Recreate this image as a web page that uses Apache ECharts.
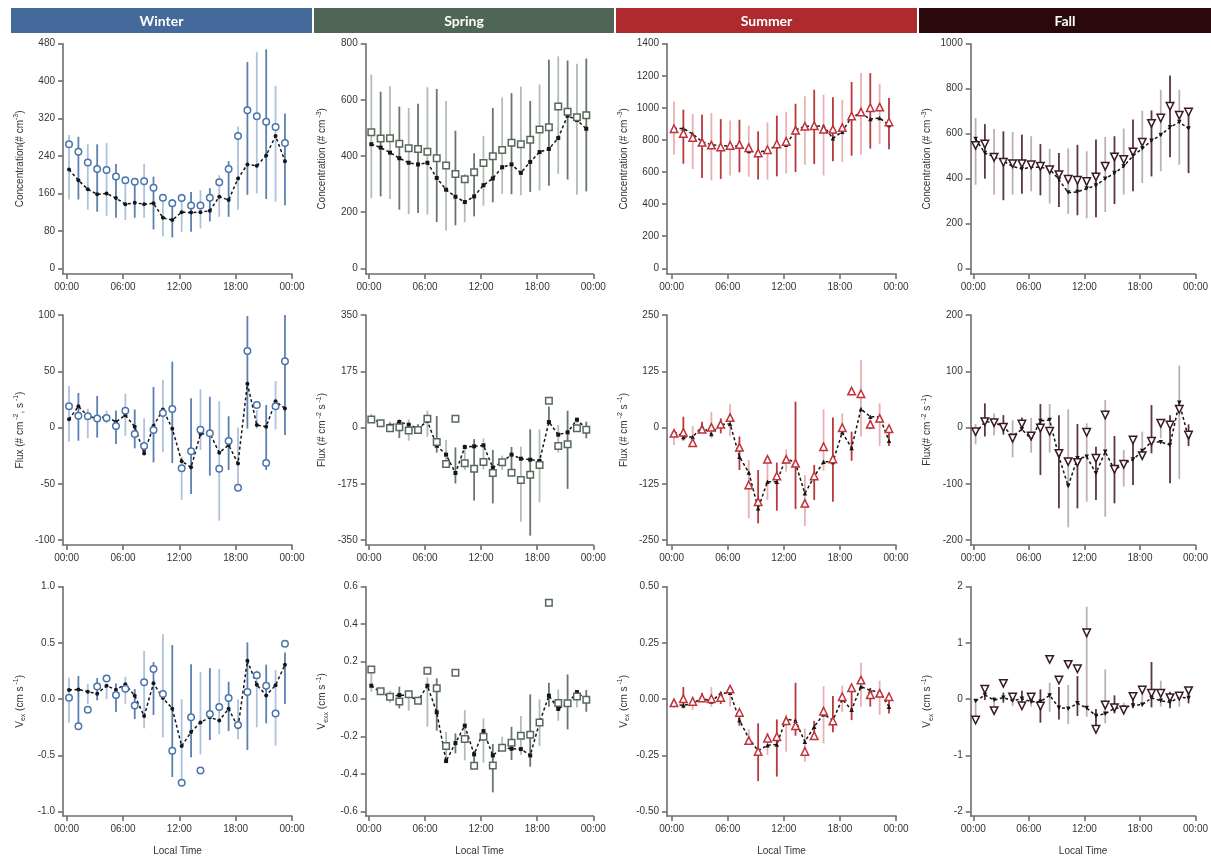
<!DOCTYPE html>
<html>
<head>
<meta charset="utf-8">
<script src="https://cdn.jsdelivr.net/npm/echarts@6/dist/echarts.min.js"></script>
<style>
html,body{margin:0;padding:0;background:#fff;}
#chart{width:1211px;height:857px;}
</style>
</head>
<body>
<div id="chart"></div>
<script>
// Hourly bins (local time, plotted a quarter hour into each hour)
const hourSlots = [0.25,1.25,2.25,3.25,4.25,5.25,6.25,7.25,8.25,9.25,10.25,11.25,12.25,13.25,14.25,15.25,16.25,17.25,18.25,19.25,20.25,21.25,22.25,23.25];
const timeTicks = [0, 6, 12, 18, 24];
const seasonNames = ['Winter', 'Spring', 'Summer', 'Fall'];

// y-axis tick values per row and season
const concTicks = [[0,80,160,240,320,400,480],[0,200,400,600,800],[0,200,400,600,800,1000,1200,1400],[0,200,400,600,800,1000]];
const fluxTicks = [[-100,-50,0,50,100],[-350,-175,0,175,350],[-250,-125,0,125,250],[-200,-100,0,100,200]];
const vexTicks  = [[-1,-0.5,0,0.5,1],[-0.6,-0.4,-0.2,0,0.2,0.4,0.6],[-0.5,-0.25,0,0.25,0.5],[-2,-1,0,1,2]];

// ---- Winter ----
const winterConcOpen = [265,249,226,212,210,196,188,185,186,172,151,139,150,134,134,151,184,212,283,338,325,313,302,268];
const winterConcMean = [211,188,169,158,160,150,137,140,137,139,108,103,120,119,120,123,153,146,192,222,219,241,283,229];
const winterConcLow  = [147,147,125,121,112,108,103,108,108,83,68,66,78,78,85,100,110,110,125,157,160,148,142,135];
const winterConcHigh = [285,281,265,265,268,223,189,189,223,196,153,148,160,163,167,171,199,229,303,441,462,468,390,331];

const winterFluxOpen = [19,10.5,10,8,8.5,1.3,15,-5.8,-16.4,-2.2,13,16.4,-36.3,-21,-2,-5,-36.6,-12,-53.5,68,20,-31.6,19,59];
const winterFluxMean = [7.3,18.8,10.2,8,9.6,4.9,11,0.7,-23,1.3,16,-1,-30,-35.4,-5.8,-5,-22.4,-15.6,-31.9,39,2.2,0.7,23.3,17];
const winterFluxLow  = [-12.6,-11.7,-9.6,-9,3.7,-14.7,-7.3,-18.5,-22,-31,-22,-31.6,-64.4,-59,-20,-42.8,-82.8,-37.8,-55.6,-1,-1,-37.8,-1.6,-6.7];
const winterFluxHigh = [37,30.7,16.7,28,15,15.2,30,16,8.1,36,42.5,58.5,-26,26,34,27.4,23.5,10,0,99,15.5,20,41.3,100];

const winterVexOpen = [0.013,-0.24,-0.093,0.114,0.185,0.037,0.093,-0.055,0.15,0.268,0.046,-0.458,-0.742,-0.161,-0.633,-0.132,-0.07,0.01,-0.23,0.064,0.212,0.12,-0.126,0.493];
const winterVexMean = [0.081,0.087,0.067,0.049,0.12,0.084,0.132,0.031,-0.15,0.141,0.01,-0.084,-0.416,-0.292,-0.206,-0.161,-0.19,-0.084,-0.25,0.342,0.129,0.034,0.123,0.307];
const winterVexLow  = [-0.21,-0.22,-0.044,-0.01,0,-0.114,-0.04,-0.176,-0.259,-0.141,-0.339,-0.692,-0.748,-0.517,-0.49,-0.363,-0.313,-0.283,-0.357,-0.452,-0.25,-0.215,-0.413,-0.043];
const winterVexHigh = [0.19,0.207,0.137,0.188,0.129,0.14,0.2,0.09,0.428,0.33,0.579,0.481,0,0.31,0.244,0.276,0.268,0.155,0,0.505,0.256,0.307,0.26,0.416];

// ---- Spring ----
const springConcOpen = [485,462,463,444,428,425,415,392,366,336,317,342,375,399,421,447,442,458,494,502,576,558,538,545];
const springConcMean = [442,430,412,392,376,370,376,322,280,255,236,256,296,320,360,370,340,379,414,425,464,544,528,497];
const springConcLow  = [250,256,247,209,193,197,191,165,135,153,164,185,223,235,265,264,260,272,277,294,337,316,262,274];
const springConcHigh = [690,629,648,576,571,586,645,639,596,490,336,410,472,571,608,624,647,596,655,743,755,740,729,747];

const springFluxOpen = [25,13,-2.6,0.5,-9,-8,27.5,-45,-113.5,27.5,-111.5,-128,-107,-141.6,-108,-140.5,-163,-146.7,-116.7,83.5,-57.6,-52.4,-2.6,-6.7];
const springFluxMean = [28.5,14,5.7,17,8.8,-3.6,20,-56.5,-84.5,-141.6,-60.7,-58.6,-55.5,-125,-107,-84.5,-97,-100,-104,17,-22.3,-15,24.4,-3.6];
const springFluxLow  = [15,4.7,-9.8,-32.7,-41,-20,-28.5,-78,-120,-174,-132,-227.6,-130,-236,-132,-148,-293,-336.5,-232.6,13,-78,-191,13,-33.7];
const springFluxHigh = [42,21,19,25,25,10,52,36,-39,-62,-52.4,-36,-33.7,-70,-87.6,-60.7,-59.6,-5.7,-5.7,65,7.8,52,28.5,18];

const springVexOpen = [0.159,0.042,0.013,-0.012,0.026,-0.008,0.152,0.058,-0.25,0.141,-0.212,-0.355,-0.2,-0.353,-0.259,-0.232,-0.195,-0.189,-0.124,0.515,-0.02,-0.022,0.015,-0.003];
const springVexMean = [0.072,0.036,0.013,0.022,0.02,-0.008,0.072,-0.07,-0.33,-0.234,-0.141,-0.294,-0.17,-0.3,-0.259,-0.264,-0.266,-0.3,-0.124,0.019,-0.052,-0.022,0.038,-0.003];
const springVexLow  = [0.04,0.022,-0.019,-0.049,-0.061,-0.019,-0.147,-0.168,-0.321,-0.289,-0.326,-0.371,-0.339,-0.497,-0.271,-0.324,-0.298,-0.36,-0.25,-0.04,-0.115,-0.161,-0.044,-0.067];
const springVexHigh = [0.174,0.058,0.045,0.067,0.044,0.013,0.116,0.111,-0.175,-0.182,-0.058,-0.275,-0.102,-0.239,-0.2,-0.147,-0.09,0.026,0,0.088,0.052,0.132,0.038,0.049];

// ---- Summer ----
const summerConcOpen = [870,841,816,785,768,756,766,771,752,719,739,775,791,860,885,889,866,866,877,949,974,1001,1005,912];
const summerConcMean = [872,872,837,789,770,764,762,762,731,721,737,764,770,862,885,887,887,810,851,945,964,931,937,893];
const summerConcLow  = [708,652,619,563,548,557,579,598,571,553,553,573,592,600,646,650,579,667,663,702,708,746,773,742];
const summerConcHigh = [1039,989,962,957,968,930,922,926,889,854,910,952,976,1026,1072,1113,1082,1066,1051,1161,1217,1217,1150,1061];

const summerFluxOpen = [-13,-10.7,-33.7,-4,0.4,7,22,-44,-127.8,-165,-70.7,-107.8,-70.7,-79.6,-168.5,-107.8,-42.6,-70,-0.4,81,75,7,20.4,-2.6];
const summerFluxMean = [-9.3,-21,-21,1.9,-14.4,7,7.8,-64.8,-100,-179.6,-120.4,-120.4,-67,-79.6,-146.3,-109.3,-76,-76.7,-10.7,-45.6,41,24,23.3,-29.3];
const summerFluxLow  = [-38.9,-29,-24,-5.6,-24,-13,-20,-94.4,-201.8,-213,-161,-184.8,-98,-181,-218.9,-161,-96,-164.8,-18.9,-73.7,-20.4,-4,-41,-41];
const summerFluxHigh = [-5.6,24,3,13,35,20.4,51.5,-20,-72,-94.4,-64.8,-78,-48.5,57.4,-105.6,-83,40.4,22,31.5,-9.3,150,16.7,53.7,-5.6];

const summerVexOpen = [-0.016,0.002,-0.01,0.005,0.002,0.008,0.045,-0.059,-0.184,-0.232,-0.173,-0.167,-0.096,-0.118,-0.232,-0.162,-0.053,-0.097,0.011,0.051,0.085,0.02,0.026,0.011];
const summerVexMean = [-0.024,-0.027,-0.019,0.005,-0.01,0.026,0.029,-0.093,-0.174,-0.229,-0.205,-0.201,-0.088,-0.096,-0.189,-0.122,-0.067,-0.093,0,-0.047,0.056,0.039,0.032,-0.033];
const summerVexLow  = [-0.038,-0.041,-0.048,-0.004,-0.033,-0.021,-0.033,-0.118,-0.194,-0.364,-0.248,-0.344,-0.233,-0.162,-0.278,-0.181,-0.196,-0.147,-0.057,-0.093,-0.033,-0.033,-0.07,-0.063];
const summerVexHigh = [-0.004,0.054,0.011,0.029,0.054,0.033,0.051,-0.048,-0.134,-0.107,-0.149,-0.09,-0.067,0.073,-0.13,-0.096,0.058,0.014,0.061,0.051,0.162,0.05,0.082,0.023];

// ---- Fall ----
const fallConcOpen = [547,553,494,472,466,466,461,454,439,417,396,392,386,407,454,496,484,518,561,645,669,721,681,696];
const fallConcMean = [576,513,496,477,454,442,450,450,442,395,337,340,355,369,399,424,454,501,533,568,593,628,651,622];
const fallConcLow  = [372,399,328,303,328,332,343,325,288,273,242,236,223,227,251,286,328,343,380,409,432,494,461,424];
const fallConcHigh = [669,642,620,610,607,595,588,553,531,513,534,550,521,573,585,588,622,662,702,703,795,858,795,700];

const fallFluxOpen = [-7.4,10.4,8.6,0.3,-19.3,6.2,-15,-0.9,-6.8,-46,-60.7,-62,-8.6,-54.8,22.2,-74.4,-65.5,-22.2,-50,-24.6,7.4,4.4,32.3,-13.3];
const fallFluxMean = [-10.4,10.4,9.2,1.5,-15,-3.3,-20.4,11.6,13.3,-52,-104,-54.8,-52,-81.5,-43,-75.6,-63.7,-57,-41.8,-25.2,-26,-31,44,-19];
const fallFluxLow  = [-30,-16,-14,-12.7,-53,-4.4,-44.7,-84.4,-44.7,-143.7,-177.5,-143.7,-131.9,-129,-158.5,-134.8,-105,-102,-56.6,-46,-19.3,-99,-92,-33];
const fallFluxHigh = [6.2,43,25,22,13,17.5,17,41.8,41.8,22,32.3,6.2,7.4,-34,48.9,-15,-40,-16.3,-7.4,40,7.4,22,110,5.6];

const fallVexOpen = [-0.37,0.175,-0.204,0.281,0.038,-0.116,0.038,-0.121,0.708,0.341,0.619,0.542,1.18,-0.536,-0.104,-0.151,-0.193,0.05,0.163,0.104,0.104,0.027,0.056,0.151];
const fallVexMean = [-0.033,0.074,-0.015,0.027,-0.027,0.009,-0.044,-0.044,0.068,-0.151,-0.169,-0.074,-0.157,-0.293,-0.258,-0.163,-0.151,-0.11,-0.098,0.021,-0.027,-0.056,0.033,0.021];
const fallVexLow  = [-0.311,-0.015,-0.133,-0.062,-0.121,-0.086,-0.133,-0.418,-0.222,-0.359,-0.441,-0.299,-0.311,-0.489,-0.43,-0.252,-0.264,-0.163,-0.133,-0.145,-0.133,-0.163,-0.133,-0.074];
const fallVexHigh = [-0.015,0.193,0.044,0.116,0.074,0.151,0.074,0.175,0.293,0.216,0.252,0.412,1.644,-0.175,0.53,0.068,-0.062,0.116,0.151,0.661,0.329,0.133,0.133,0.193];

// ---- styling ----
const headerColors = ['#44699b', '#4f6656', '#ae2a2f', '#2a080b'];
const markerColors = ['#4a74ab', '#56695c', '#c0313a', '#3a1a20'];
const barLight = ['#adc2dc', '#b3bbb4', '#e8b0b2', '#bdb0b1'];
const barDark = ['#5b80b0', '#69776b', '#b8383c', '#5a383c'];
const shapes = ['circle', 'rect', 'triangle', 'triangle'];
const shapeRotate = [0, 0, 0, 180];
const openSize = [6.5, 6.5, 7.5, 7.5];
const meanSize = [4, 4, 4.5, 4.5];

// panel geometry (pixels)
const colLeft = [63, 365.7, 667, 970.7];
const colRight = [292, 593.3, 896, 1198];
const colXMin = [-0.39, -0.35, -0.5, -0.28];
const rowTop = [43.7, 315, 586.7];
const rowBottom = [274, 545, 816];
const rowLowTick = [268.3, 540, 811.7];

const FONT = '"Liberation Sans", Arial, sans-serif';

const names = {
  conc: [
    'Concentration(# cm{sup|-3})',
    'Concentration (# cm{sup| -3})',
    'Concentration (# cm{sup| -3})',
    'Concentration (# cm{sup| -3})'
  ],
  flux: [
    'Flux (# cm{sup| -2}, s{sup| -1})',
    'Flux (# cm{sup| -2} s{sup| -1})',
    'Flux (# cm{sup| -2} s{sup| -1})',
    'Flux(# cm{sup| -2} s{sup| -1})'
  ],
  vex: [
    'V{sub|ex} (cm s{sup| -1})',
    'V{sub|exx} (cm s{sup| -1})',
    'V{sub|ex} (cm s{sup| -1})',
    'V{sub|ex} (cm s{sup| -1})'
  ]
};

const panelData = [
  [ // conc row
    [winterConcOpen, winterConcMean, winterConcLow, winterConcHigh],
    [springConcOpen, springConcMean, springConcLow, springConcHigh],
    [summerConcOpen, summerConcMean, summerConcLow, summerConcHigh],
    [fallConcOpen, fallConcMean, fallConcLow, fallConcHigh]
  ],
  [ // flux row
    [winterFluxOpen, winterFluxMean, winterFluxLow, winterFluxHigh],
    [springFluxOpen, springFluxMean, springFluxLow, springFluxHigh],
    [summerFluxOpen, summerFluxMean, summerFluxLow, summerFluxHigh],
    [fallFluxOpen, fallFluxMean, fallFluxLow, fallFluxHigh]
  ],
  [ // exchange velocity row
    [winterVexOpen, winterVexMean, winterVexLow, winterVexHigh],
    [springVexOpen, springVexMean, springVexLow, springVexHigh],
    [summerVexOpen, summerVexMean, summerVexLow, summerVexHigh],
    [fallVexOpen, fallVexMean, fallVexLow, fallVexHigh]
  ]
];
const rowTicks = [concTicks, fluxTicks, vexTicks];
const rowNames = [names.conc, names.flux, names.vex];
const vexDecimals = [1, 1, 2, 0];

const grids = [], xAxes = [], yAxes = [], series = [], graphics = [];

const axisLineStyle = { color: '#6e6e6e', width: 1.6 };
const timeLabel = v => (v === 24 ? 0 : v).toString().padStart(2, '0') + ':00';

for (let r = 0; r < 3; r++) {
  for (let c = 0; c < 4; c++) {
    const idx = r * 4 + c;
    const ticks = rowTicks[r][c];
    const lo = ticks[0], hi = ticks[ticks.length - 1];
    const pad = (hi - lo) * (rowBottom[r] - rowLowTick[r]) / (rowLowTick[r] - rowTop[r]);
    const decimals = r === 2 ? vexDecimals[c] : 0;

    grids.push({
      left: colLeft[c], top: rowTop[r],
      width: colRight[c] - colLeft[c], height: rowBottom[r] - rowTop[r]
    });

    xAxes.push({
      type: 'value', gridIndex: idx, min: colXMin[c], max: 24,
      axisLine: { show: true, onZero: false, lineStyle: axisLineStyle },
      axisTick: { show: true, length: 5, customValues: timeTicks, lineStyle: axisLineStyle },
      axisLabel: { customValues: timeTicks, formatter: timeLabel, fontSize: 10, color: '#333', fontFamily: FONT, margin: 8 },
      splitLine: { show: false },
      name: r === 2 ? 'Local Time' : '', nameLocation: 'middle', nameGap: 30,
      nameTextStyle: { fontSize: 10, color: '#333', fontFamily: FONT }
    });

    yAxes.push({
      type: 'value', gridIndex: idx, min: lo - pad, max: hi,
      axisLine: { show: true, onZero: false, lineStyle: axisLineStyle },
      axisTick: { show: true, length: 5, customValues: ticks, lineStyle: axisLineStyle },
      axisLabel: { customValues: ticks, formatter: v => v.toFixed(decimals), fontSize: 10, color: '#333', fontFamily: FONT, margin: 8 },
      splitLine: { show: false },
      name: rowNames[r][c], nameLocation: 'middle', nameGap: 36,
      nameTextStyle: {
        fontSize: 10, color: '#333', fontFamily: FONT, lineHeight: 14,
        rich: {
          sup: { fontSize: 7, color: '#333', fontFamily: FONT, lineHeight: 7, verticalAlign: 'top' },
          sub: { fontSize: 7, color: '#333', fontFamily: FONT, lineHeight: 7, verticalAlign: 'bottom' }
        }
      }
    });

    const [openVals, meanVals, lowVals, highVals] = panelData[r][c];

    // error bars
    series.push({
      type: 'custom', xAxisIndex: idx, yAxisIndex: idx, z: 2, silent: true,
      data: hourSlots.map((x, i) => [x, lowVals[i], highVals[i], i % 2]),
      encode: { x: 0, y: [1, 2] },
      renderItem: (params, api) => {
        const p1 = api.coord([api.value(0), api.value(1)]);
        const p2 = api.coord([api.value(0), api.value(2)]);
        return {
          type: 'line',
          shape: { x1: p1[0], y1: p1[1], x2: p2[0], y2: p2[1] },
          style: { stroke: api.value(3) ? barDark[c] : barLight[c], lineWidth: 1.8 }
        };
      }
    });

    // dashed mean line with small filled markers
    series.push({
      type: 'line', xAxisIndex: idx, yAxisIndex: idx, z: 3, silent: true,
      data: hourSlots.map((x, i) => [x, meanVals[i]]),
      symbol: shapes[c], symbolSize: meanSize[c], symbolRotate: shapeRotate[c],
      showAllSymbol: true,
      itemStyle: { color: '#151515' },
      lineStyle: { color: '#151515', width: 1.5, type: [3, 2.5] }
    });

    // hollow markers
    series.push({
      type: 'scatter', xAxisIndex: idx, yAxisIndex: idx, z: 4, silent: true,
      data: hourSlots.map((x, i) => [x, openVals[i]]),
      symbol: shapes[c], symbolSize: openSize[c], symbolRotate: shapeRotate[c],
      itemStyle: { color: '#ffffff', borderColor: markerColors[c], borderWidth: 1.5, opacity: 1 }
    });
  }
}

// season header bands
const headerLeft = [11, 314, 616, 919];
const headerRight = [312, 614, 917, 1211];
for (let c = 0; c < 4; c++) {
  graphics.push({
    type: 'rect',
    shape: { x: headerLeft[c], y: 8, width: headerRight[c] - headerLeft[c], height: 25 },
    style: { fill: headerColors[c] }
  });
  graphics.push({
    type: 'text',
    x: (headerLeft[c] + headerRight[c]) / 2, y: 21,
    style: {
      text: seasonNames[c], fill: '#ffffff', align: 'center', verticalAlign: 'middle',
      font: 'bold 14px Lato, "Open Sans", sans-serif'
    }
  });
}

const chart = echarts.init(document.getElementById('chart'), null, { renderer: 'canvas' });
chart.setOption({
  animation: false,
  backgroundColor: '#ffffff',
  grid: grids,
  xAxis: xAxes,
  yAxis: yAxes,
  series: series,
  graphic: graphics
});
</script>
</body>
</html>
